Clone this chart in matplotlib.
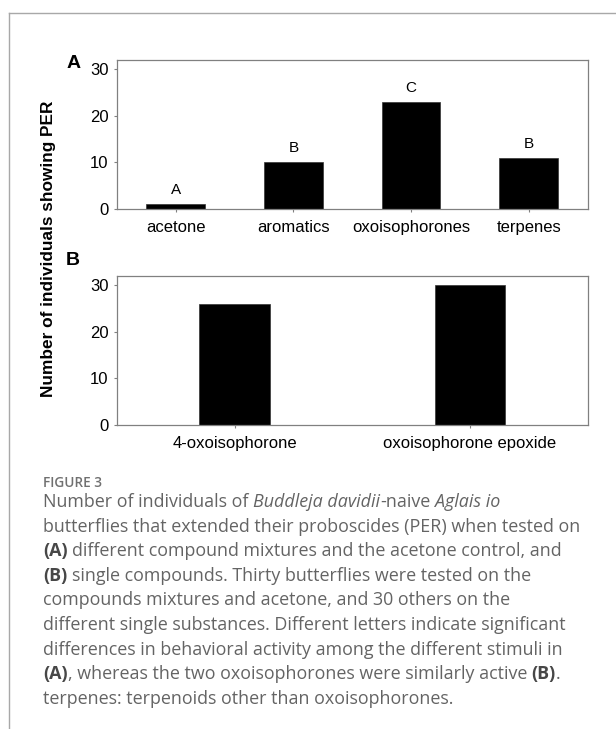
import matplotlib
matplotlib.use("Agg")
import matplotlib.pyplot as plt
from matplotlib.lines import Line2D

# Panel A: compound mixtures + acetone control
categories_a = ["acetone", "aromatics", "oxoisophorones", "terpenes"]
counts_a = [1, 10, 23, 11]
letters_a = ["A", "B", "C", "B"]

# Panel B: single compounds
categories_b = ["4-oxoisophorone", "oxoisophorone epoxide"]
counts_b = [26, 30]

y_ticks = [0, 10, 20, 30]
y_label = "Number of individuals showing PER"

caption_title = "FIGURE 3"
# each caption line is a list of (text, style) runs; r = regular, i = italic, b = bold, " " = a space
caption_lines = [
    [("Number of individuals of", "r"), (" ", "r"), ("Buddleja davidii", "i"), ("-naive", "r"), (" ", "r"), ("Aglais io", "i")],
    [("butterflies that extended their proboscides (PER) when tested on", "r")],
    [("(A)", "b"), (" ", "r"), ("different compound mixtures and the acetone control, and", "r")],
    [("(B)", "b"), (" ", "r"), ("single compounds. Thirty butterflies were tested on the", "r")],
    [("compounds mixtures and acetone, and 30 others on the", "r")],
    [("different single substances. Different letters indicate significant", "r")],
    [("differences in behavioral activity among the different stimuli in", "r")],
    [("(A)", "b"), (", whereas the two oxoisophorones were similarly active", "r"), (" ", "r"), ("(B)", "b"), (".", "r")],
    [("terpenes: terpenoids other than oxoisophorones.", "r")],
]

W, H = 616, 729
plt.rcParams["font.family"] = ["Liberation Sans", "DejaVu Sans"]

fig = plt.figure(figsize=(W / 100, H / 100), dpi=100)
fig.patch.set_facecolor("white")


def px_axes(left: float, top: float, right: float, bottom: float):
    # place axes using pixel coordinates measured from the top left corner
    return fig.add_axes([left / W, 1 - bottom / H, (right - left) / W, (bottom - top) / H])


def style_axes(ax, labels) -> None:
    for spine in ax.spines.values():
        spine.set_color("#808080")
        spine.set_linewidth(0.9)
    ax.set_ylim(0, 32)
    ax.set_yticks(y_ticks)
    ax.set_xlim(-0.5, len(labels) - 0.5)
    ax.set_xticks(range(len(labels)))
    ax.set_xticklabels(labels)
    ax.tick_params(axis="both", direction="out", length=2.5, width=0.8, color="#808080", labelsize=12)
    ax.tick_params(axis="y", pad=3.5)
    ax.tick_params(axis="x", pad=5.5)


# Panel A
ax_a = px_axes(117, 60, 587.5, 209)
ax_a.bar(range(len(categories_a)), counts_a, width=0.5, color="black", edgecolor="#333333", linewidth=0.5)
for i, (value, letter) in enumerate(zip(counts_a, letters_a)):
    ax_a.annotate(letter, (i, value), xytext=(0, 7.3), textcoords="offset points", ha="center", va="baseline", fontsize=11)
style_axes(ax_a, categories_a)

# Panel B
ax_b = px_axes(117, 275.7, 587.5, 425)
ax_b.bar(range(len(categories_b)), counts_b, width=0.3, color="black", edgecolor="#333333", linewidth=0.5)
style_axes(ax_b, categories_b)

# panel letters and shared y label
fig.text(73.5 / W, 1 - 63 / H, "A", fontsize=14, fontweight="bold", ha="center", va="center")
fig.text(72.5 / W, 1 - 260 / H, "B", fontsize=14, fontweight="bold", ha="center", va="center")
fig.text(49 / W, 1 - 249 / H, y_label, fontsize=12.4, fontweight="bold", rotation=90, ha="center", va="center")

# thin frame around the figure block
frame_color = "#a8a8a8"
fig.add_artist(Line2D([9 / W, 1], [1 - 13 / H, 1 - 13 / H], transform=fig.transFigure, color=frame_color, lw=1))
fig.add_artist(Line2D([9 / W, 9 / W], [1 - 13 / H, 0], transform=fig.transFigure, color=frame_color, lw=1))

# caption
caption_font = ["Open Sans", "DejaVu Sans"]
caption_size = 12.9
caption_color = "#646464"
fig.text(43 / W, 1 - 487 / H, caption_title, fontsize=9.8, family=caption_font, fontweight="semibold", color="#707070", va="baseline", ha="left")

renderer = fig.canvas.get_renderer()


def text_width(s: str, **kw) -> float:
    t = fig.text(0, 0, s, fontsize=caption_size, family=caption_font, **kw)
    w = t.get_window_extent(renderer).width
    t.remove()
    return w


space_w = text_width("n n") - text_width("nn")

for i, line in enumerate(caption_lines):
    x = 43
    y = 507 + 24.6 * i
    for text, style in line:
        if text == " ":
            x += space_w
            continue
        t = fig.text(
            x / W,
            1 - y / H,
            text,
            fontsize=caption_size,
            family=caption_font,
            style="italic" if style == "i" else "normal",
            fontweight="bold" if style == "b" else "normal",
            color="#474747" if style == "b" else caption_color,
            ha="left",
            va="baseline",
        )
        x += t.get_window_extent(renderer).width

fig.savefig("out.png", dpi=100, facecolor="white")
